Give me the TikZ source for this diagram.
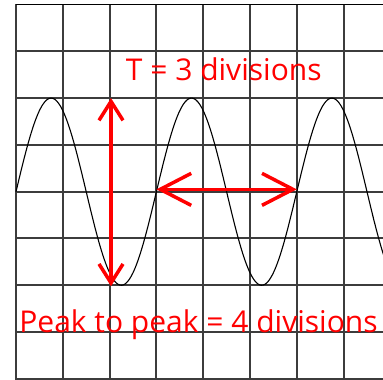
\documentclass[tikz,border=0pt]{standalone}
\usepackage{fontspec}
\setmainfont{Open Sans}
\usetikzlibrary{arrows.meta}
\definecolor{scopered}{HTML}{FF0000}
\definecolor{gridgrey}{HTML}{3C3C3C}

\begin{document}
\begin{tikzpicture}[x=46.8pt, y=46.8pt,
    gridline/.style={gridgrey, line width=2pt},
    trace/.style={black, line width=1.1pt},
    marker/.style={scopered, line width=3.5pt},
    label/.style={scopered, font=\fontsize{30}{32}\selectfont, anchor=base, inner sep=0pt},
  ]
\useasboundingbox (-0.342,-4.011) rectangle (7.842,4.096);

% --- Screen grid: one division per square ---------------------------------------------
\foreach \x in {0,...,7} \draw[gridline] (\x,-4.2) -- (\x,4);
\foreach \y in {-4,...,3} \draw[gridline] (0,\y) -- (7.9,\y);
\draw[black, line width=1.4pt] (0,4) -- (7.9,4);

% --- The trace: two divisions high, three divisions per cycle --------------------------
\draw[trace, domain=0:7.9, samples=200, smooth] plot (\x, {2*sin(120*\x)});

% --- Peak to peak ------------------------------------------------------------------------
\coordinate (crest) at (2.03,2);
\coordinate (hollow) at (2.03,-2.02);
\draw[marker, {Straight Barb[length=19pt, width=24pt]}-{Straight Barb[length=19pt, width=24pt]}] (crest) -- (hollow);

% --- One period --------------------------------------------------------------------------
\coordinate (riseA) at (3,0.05);
\coordinate (riseB) at (6,0.05);
\draw[marker, {Straight Barb[length=31pt, width=32pt]}-{Straight Barb[length=31pt, width=32pt]}] (riseA) -- (riseB);

% --- Readings ----------------------------------------------------------------------------
\node[label] (period) at (4.44,2.38) {T = 3 divisions};
\node[label] (swing) at (3.90,-3.0) {Peak to peak = 4 divisions};
\end{tikzpicture}
\end{document}
